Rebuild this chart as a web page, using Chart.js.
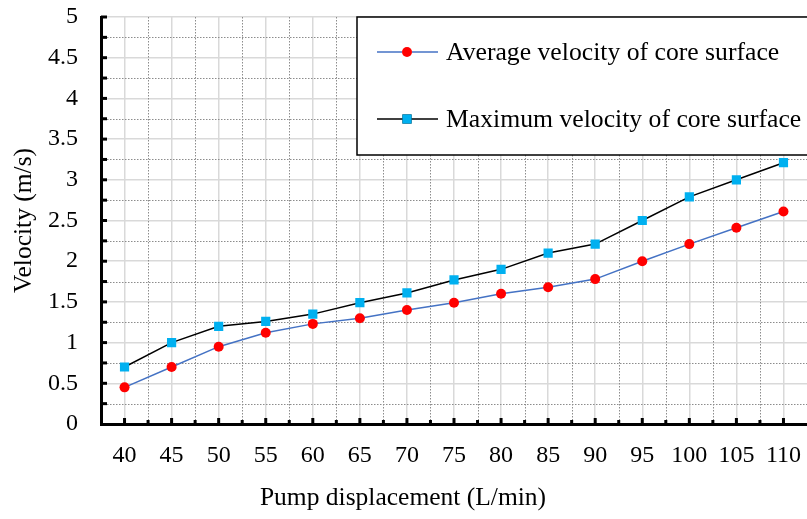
<!DOCTYPE html>
<html>
<head>
<meta charset="utf-8">
<script src="https://cdn.jsdelivr.net/npm/chart.js@4"></script>
<style>
  html, body { margin: 0; padding: 0; background: #fff; }
  canvas { display: block; }
</style>
</head>
<body>
<canvas id="velocityChart" width="807" height="519"></canvas>
<script>
const displacement = ['40', '45', '50', '55', '60', '65', '70', '75', '80', '85', '90', '95', '100', '105', '110'];
const avgVelocity = [0.45, 0.70, 0.95, 1.12, 1.23, 1.30, 1.40, 1.49, 1.60, 1.68, 1.78, 2.00, 2.21, 2.41, 2.61];
const maxVelocity = [0.70, 1.00, 1.20, 1.26, 1.35, 1.49, 1.61, 1.77, 1.90, 2.10, 2.21, 2.50, 2.79, 3.00, 3.21];
const seriesNames = ['Average velocity of core surface', 'Maximum velocity of core surface'];
const xTitle = 'Pump displacement (L/min)';
const yTitle = 'Velocity (m/s)';

const serif = 'Liberation Serif';

// let the plot run right up to the canvas edge
const stretchRight = {
  id: 'stretchRight',
  afterLayout(chart) {
    const area = chart.chartArea;
    const x = chart.scales.x;
    area.right = chart.width;
    area.width = area.right - area.left;
    x.right = chart.width;
    x.width = x.right - x.left;
    x.configure();
  }
};

// dotted minor grid and inward tick marks
const minorGrid = {
  id: 'minorGrid',
  beforeDatasetsDraw(chart) {
    const { ctx, chartArea: a, scales: { x, y } } = chart;
    ctx.save();
    ctx.strokeStyle = '#8c8c8c';
    ctx.lineWidth = 1;
    ctx.setLineDash([1.5, 1.5]);
    for (let i = 0; i < displacement.length - 1; i++) {
      const px = Math.round((x.getPixelForTick(i) + x.getPixelForTick(i + 1)) / 2) + 0.5;
      ctx.beginPath();
      ctx.moveTo(px, a.top);
      ctx.lineTo(px, a.bottom);
      ctx.stroke();
    }
    for (let v = 0.25; v < 5; v += 0.5) {
      const py = Math.round(y.getPixelForValue(v)) + 0.5;
      ctx.beginPath();
      ctx.moveTo(a.left, py);
      ctx.lineTo(a.right, py);
      ctx.stroke();
    }
    ctx.setLineDash([]);
    ctx.strokeStyle = '#000';
    ctx.lineWidth = 3;
    // x ticks, pointing up
    for (let i = 0; i < displacement.length; i++) {
      const px = x.getPixelForTick(i);
      ctx.beginPath();
      ctx.moveTo(px, a.bottom);
      ctx.lineTo(px, a.bottom - 6);
      ctx.stroke();
      if (i < displacement.length - 1) {
        const mx = (px + x.getPixelForTick(i + 1)) / 2;
        ctx.beginPath();
        ctx.moveTo(mx, a.bottom);
        ctx.lineTo(mx, a.bottom - 4);
        ctx.stroke();
      }
    }
    // y ticks, pointing right
    for (let v = 0.25; v <= 5; v += 0.25) {
      const py = y.getPixelForValue(v);
      ctx.beginPath();
      ctx.moveTo(a.left, py);
      ctx.lineTo(a.left + 6, py);
      ctx.stroke();
    }
    ctx.restore();
  }
};

// boxed legend in the upper right, x title under the labels
const boxLegend = {
  id: 'boxLegend',
  afterDatasetsDraw(chart) {
    const { ctx } = chart;
    const left = 357, top = 17, right = 820, bottom = 155;
    ctx.save();
    ctx.fillStyle = '#fff';
    ctx.fillRect(left, top, right - left, bottom - top);
    ctx.strokeStyle = '#000';
    ctx.lineWidth = 1.5;
    ctx.strokeRect(left, top, right - left, bottom - top);
    const rows = [52, 119];
    chart.data.datasets.forEach((ds, i) => {
      const yy = rows[i];
      ctx.strokeStyle = ds.borderColor;
      ctx.lineWidth = ds.borderWidth;
      ctx.beginPath();
      ctx.moveTo(377, yy);
      ctx.lineTo(438, yy);
      ctx.stroke();
      Chart.helpers.drawPoint(ctx, {
        pointStyle: ds.pointStyle,
        radius: ds.pointRadius,
        borderWidth: 0,
        rotation: 0
      }, 407, yy);
      ctx.fillStyle = ds.pointBackgroundColor;
      ctx.fill();
      ctx.fillStyle = '#000';
      ctx.font = '25.7px "' + serif + '"';
      ctx.textBaseline = 'middle';
      ctx.textAlign = 'left';
      ctx.fillText(ds.label, 446, yy + 1);
    });

    ctx.font = '25.5px "' + serif + '"';
    ctx.textAlign = 'center';
    ctx.textBaseline = 'middle';
    ctx.fillStyle = '#000';
    ctx.fillText(xTitle, 403, 498);
    ctx.restore();
  }
};

const ctx = document.getElementById('velocityChart').getContext('2d');
new Chart(ctx, {
  type: 'line',
  data: {
    labels: displacement,
    datasets: [
      {
        label: seriesNames[0],
        data: avgVelocity,
        borderColor: '#4472c4',
        borderWidth: 1.5,
        pointStyle: 'circle',
        pointRadius: 5,
        pointBorderWidth: 0,
        pointBackgroundColor: '#ff0000',
        tension: 0
      },
      {
        label: seriesNames[1],
        data: maxVelocity,
        borderColor: '#000000',
        borderWidth: 1.5,
        pointStyle: 'rect',
        pointRadius: 6.5,
        pointBorderWidth: 0,
        pointBackgroundColor: '#00b0f0',
        tension: 0
      }
    ]
  },
  options: {
    responsive: false,
    animation: false,
    layout: {
      padding: { top: 17, left: 9, right: 0, bottom: 0 }
    },
    scales: {
      x: {
        type: 'category',
        offset: true,
        grid: { color: '#d9d9d9', lineWidth: 1.5, drawTicks: false },
        border: { display: true, color: '#000', width: 3 },
        ticks: { color: '#000', font: { family: serif, size: 24 }, padding: 17, maxRotation: 0, autoSkip: false },
        title: { display: false },
        afterFit: s => {
          s.height = 95;
          s.paddingLeft = 0;
          s.paddingRight = 0;
        }
      },
      y: {
        min: 0,
        max: 5,
        grid: { color: '#d9d9d9', lineWidth: 1.5, drawTicks: false },
        border: { display: true, color: '#000', width: 3 },
        ticks: {
          stepSize: 0.5,
          color: '#000',
          font: { family: serif, size: 24 },
          padding: 23,
          callback: v => String(+v)
        },
        title: {
          display: true,
          text: yTitle,
          color: '#000',
          font: { family: serif, size: 25.5 },
          padding: { top: 0, bottom: 0 }
        },
        afterFit: s => {
          s.width = 92;
          s.paddingTop = 0;
          s.paddingBottom = 0;
        }
      }
    },
    plugins: {
      legend: { display: false },
      tooltip: { enabled: false }
    }
  },
  plugins: [stretchRight, minorGrid, boxLegend]
});
</script>
</body>
</html>
